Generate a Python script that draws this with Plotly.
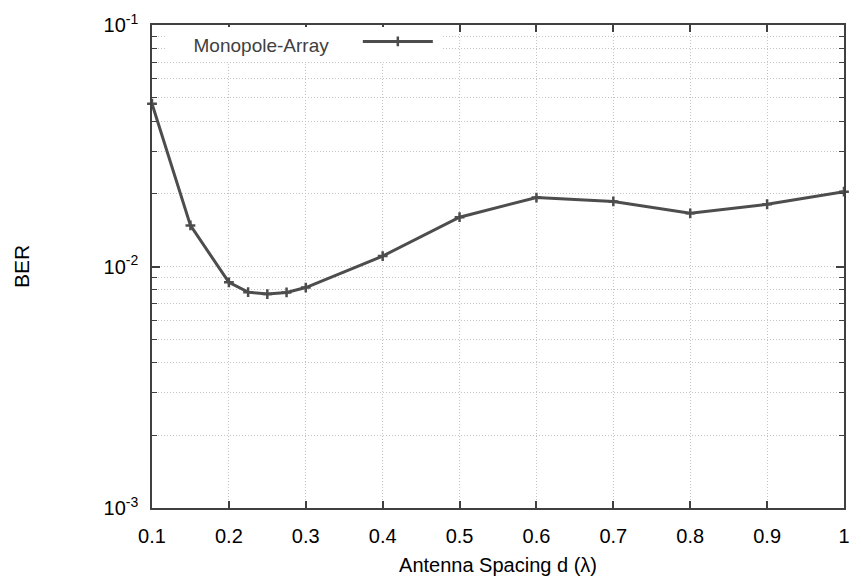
import plotly.graph_objects as go

spacing = [0.1, 0.15, 0.2, 0.225, 0.25, 0.275, 0.3, 0.4, 0.5, 0.6, 0.7, 0.8, 0.9, 1.0]
ber = [0.0472, 0.01479, 0.0086, 0.00783, 0.00769, 0.00781, 0.00818, 0.01105,
       0.0160, 0.0193, 0.0186, 0.0166, 0.0181, 0.0204]
series_name = "Monopole-Array"
x_ticks = [0.1, 0.2, 0.3, 0.4, 0.5, 0.6, 0.7, 0.8, 0.9, 1.0]
x_tick_text = ["0.1", "0.2", "0.3", "0.4", "0.5", "0.6", "0.7", "0.8", "0.9", "1"]
y_ticks = [0.001, 0.01, 0.1]
y_tick_text = ["10<sup>-3</sup>", "10<sup>-2</sup>", "10<sup>-1</sup>"]
y_minor = [m * 10.0 ** e for e in (-3, -2) for m in range(2, 10)]

FONT = "Liberation Sans, Arial, Helvetica, sans-serif"
LINE = "#4d4d4d"
GRID = "#c4c4c4"
AXIS = "#404040"
NB = "&nbsp;"

fig = go.Figure()
fig.add_trace(go.Scatter(
    x=spacing, y=ber, mode="lines+markers", name="",
    line=dict(color=LINE, width=3),
    marker=dict(symbol="cross-thin", size=7, line=dict(color=LINE, width=2.5), color=LINE),
    cliponaxis=False,
))

fig.update_layout(
    width=861, height=584,
    margin=dict(l=152, r=11, t=20, b=74),
    paper_bgcolor="white", plot_bgcolor="white",
    font=dict(family=FONT, size=20, color="#000000"),
    showlegend=True,
    legend=dict(
        x=0.019, y=0.996, xanchor="left", yanchor="top",
        bgcolor="white", borderwidth=0,
        title=dict(text=NB * 5 + series_name + NB * 4, side="left",
                   font=dict(family=FONT, size=19, color="#404040")),
        itemwidth=70,
        font=dict(size=12),
    ),
    xaxis=dict(
        range=[0.1, 1.0], tickvals=x_ticks, ticktext=x_tick_text,
        ticks="inside", ticklen=7, tickwidth=1.5, tickcolor=AXIS,
        showline=True, linecolor=AXIS, linewidth=1.5, mirror="allticks",
        showgrid=True, gridcolor=GRID, griddash="1px,2px", gridwidth=1,
        zeroline=False, ticklabelstandoff=9,
        tickfont=dict(family=FONT, size=20, color="#000000"),
        title=dict(text="Antenna Spacing d (λ)", standoff=12,
                   font=dict(family=FONT, size=20, color="#000000")),
    ),
    yaxis=dict(
        type="log", range=[-3, -1], tickvals=y_ticks, ticktext=y_tick_text,
        ticks="inside", ticklen=8, tickwidth=1.5, tickcolor=AXIS,
        showline=True, linecolor=AXIS, linewidth=1.5, mirror="allticks",
        showgrid=True, gridcolor=GRID, griddash="1px,2px", gridwidth=1,
        zeroline=False, ticklabelstandoff=8,
        tickfont=dict(family=FONT, size=20, color="#000000"),
        minor=dict(tickvals=y_minor, ticks="inside", ticklen=5, tickwidth=1.2,
                   tickcolor=AXIS, showgrid=True, gridcolor=GRID, griddash="1px,2px", gridwidth=1),
        title=dict(text="BER", standoff=68,
                   font=dict(family=FONT, size=21, color="#000000")),
    ),
)

fig.write_html("out.html")
